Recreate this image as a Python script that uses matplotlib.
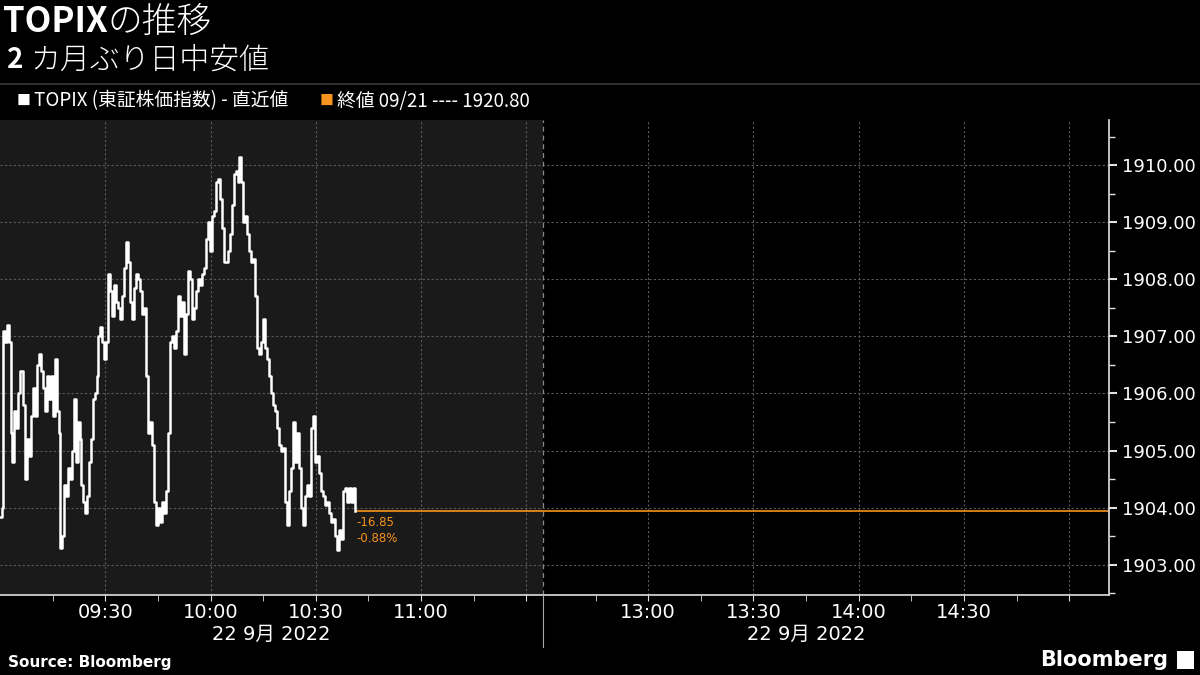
import matplotlib
matplotlib.use("Agg")
import matplotlib.pyplot as plt
from matplotlib.lines import Line2D
import numpy as np

plt.rcParams['font.family'] = ['Noto Sans CJK JP', 'DejaVu Sans']

# minutes since 09:00 (morning session) and TOPIX level
minutes = [0.0, 0.6, 0.85, 1.4, 2.0, 2.6, 3.1, 3.4, 4.0, 4.6, 5.1, 5.7, 6.6, 7.1, 7.7, 8.3,
           8.8, 9.4, 10.0, 10.5, 11.1, 11.7, 12.3, 12.8, 13.4, 14.0, 14.5, 15.1, 15.7, 16.2,
           16.8, 17.1, 17.7, 18.2, 18.8, 19.4, 19.9, 20.5, 21.1, 21.7, 22.2, 22.8, 23.1, 23.6,
           24.2, 24.8, 25.4, 25.9, 26.5, 27.1, 27.6, 27.9, 28.5, 29.1, 29.6, 30.2, 30.8, 31.3,
           31.9, 32.5, 33.0, 33.6, 34.2, 34.8, 35.3, 35.9, 36.5, 37.0, 37.6, 38.2, 38.7, 39.3,
           39.9, 40.5, 41.0, 41.6, 42.2, 42.7, 43.3, 43.9, 44.4, 45.0, 45.6, 46.2, 46.7, 47.3,
           47.9, 48.4, 49.0, 49.6, 50.1, 50.7, 51.3, 51.9, 52.4, 53.0, 53.6, 54.1, 54.7, 55.3,
           55.8, 56.4, 57.0, 57.5, 58.1, 58.7, 59.3, 59.8, 60.4, 61.0, 61.5, 62.1, 62.7, 63.2,
           63.8, 64.4, 65.0, 65.5, 66.1, 66.7, 67.2, 67.8, 68.1, 68.7, 69.2, 69.8, 70.4, 70.9,
           71.5, 72.1, 72.6, 73.2, 73.8, 74.4, 74.9, 75.5, 76.1, 76.6, 77.2, 77.8, 78.3, 78.9,
           79.5, 80.1, 80.6, 81.2, 81.8, 82.3, 82.9, 83.5, 84.0, 84.6, 85.2, 85.8, 86.3, 86.9,
           87.5, 88.0, 88.6, 89.2, 89.7, 90.3, 90.9, 91.5, 92.0, 92.6, 93.2, 93.7, 94.3, 94.9,
           95.4, 96.0, 96.6, 97.2, 97.7, 98.3, 98.9, 99.4, 100.0, 100.6, 101.1]
topix = [1903.84, 1904.0, 1907.1, 1906.9, 1907.2, 1906.9, 1905.3, 1904.8, 1905.7, 1905.4,
         1906.0, 1906.4, 1905.8, 1904.5, 1905.2, 1904.9, 1905.6, 1906.1, 1905.6, 1906.5,
         1906.7, 1906.4, 1906.1, 1905.7, 1906.3, 1905.9, 1906.3, 1905.6, 1906.6, 1905.7,
         1905.3, 1903.3, 1903.5, 1904.4, 1904.2, 1904.7, 1904.5, 1905.0, 1905.9, 1904.8,
         1905.5, 1905.2, 1904.4, 1904.1, 1903.9, 1904.2, 1904.8, 1905.2, 1905.9, 1906.0,
         1906.3, 1907.0, 1907.16, 1906.9, 1906.6, 1906.9, 1908.1, 1907.8, 1907.35, 1907.9,
         1907.6, 1907.5, 1907.3, 1907.7, 1908.2, 1908.65, 1908.3, 1907.6, 1907.3, 1907.85,
         1908.1, 1908.0, 1907.8, 1907.4, 1907.5, 1906.3, 1905.3, 1905.5, 1905.1, 1904.1,
         1903.7, 1904.0, 1903.75, 1904.1, 1903.9, 1904.3, 1905.3, 1906.9, 1907.0, 1906.8,
         1907.1, 1907.7, 1907.35, 1907.6, 1906.7, 1907.4, 1908.15, 1908.0, 1907.3, 1907.5,
         1907.8, 1908.0, 1907.9, 1908.1, 1908.2, 1908.7, 1909.0, 1908.5, 1909.1, 1909.2,
         1909.7, 1909.75, 1909.4, 1908.9, 1908.3, 1908.3, 1908.5, 1908.8, 1909.3, 1909.85,
         1909.9, 1909.7, 1910.14, 1909.7, 1909.0, 1909.1, 1908.8, 1908.5, 1908.3, 1908.35,
         1907.7, 1906.8, 1906.7, 1906.9, 1907.3, 1906.8, 1906.6, 1906.3, 1906.0, 1905.8,
         1905.7, 1905.4, 1905.1, 1905.0, 1905.05, 1904.1, 1903.7, 1904.3, 1904.7, 1905.5,
         1904.8, 1905.3, 1904.7, 1904.0, 1903.7, 1904.2, 1904.4, 1904.2, 1905.4, 1905.6,
         1904.8, 1904.9, 1904.6, 1904.3, 1904.2, 1904.05, 1904.1, 1903.9, 1903.75, 1903.8,
         1903.5, 1903.25, 1903.6, 1903.45, 1904.3, 1904.35, 1904.1, 1904.35, 1904.1, 1904.35,
         1903.95]

prev_close = 1920.80
change = -16.85
change_pct = -0.88

am_labels = ['09:30', '10:00', '10:30', '11:00', '']
pm_labels = ['13:00', '13:30', '14:00', '14:30', '']
date_label = '22 9月 2022'

# compressed time axis: lunch break removed
am_end = 154.7          # position of 12:30 (session break)
x_max = 316.0

orange = '#f7931e'
grid_c = '#5a5a5a'

fig = plt.figure(figsize=(12, 6.75), dpi=100, facecolor='black')
ax = fig.add_axes([0, 80 / 675, 1109 / 1200, 475 / 675])
ax.set_facecolor('black')
ax.axvspan(0, am_end, color='#1a1a1a', lw=0, zorder=0)

ax.set_xlim(0, x_max)
ax.set_ylim(1902.47, 1910.79)

am_ticks = [30, 60, 90, 120, 150]
pm_ticks = [am_end + m for m in (30, 60, 90, 120, 150)]
ax.set_xticks(am_ticks + pm_ticks)
ax.set_xticklabels(am_labels + pm_labels)
minor = [15, 45, 75, 105, 135] + [am_end + m for m in (15, 45, 75, 105, 135)]
ax.set_xticks(minor, minor=True)

ax.set_yticks(np.arange(1903, 1911, 1))
ax.set_yticks(np.arange(1902.5, 1911, 1), minor=True)
ax.yaxis.set_major_formatter(plt.FormatStrFormatter('%.2f'))
ax.yaxis.tick_right()

ax.grid(True, which='major', color=grid_c, linestyle=(0, (2, 2)), lw=0.8)
ax.axvline(am_end, color='#888888', linestyle=(0, (4, 3)), lw=0.9)

for s in ['top', 'left']:
    ax.spines[s].set_visible(False)
for s in ['bottom', 'right']:
    ax.spines[s].set_color('#e0e0e0')
    ax.spines[s].set_linewidth(1.2)

ax.tick_params(axis='x', which='both', colors='#e0e0e0', labelcolor='white',
               labelsize=14, length=4, pad=2)
ax.tick_params(axis='y', which='major', colors='#e0e0e0', labelcolor='white',
               labelsize=13, length=6, width=1.5, pad=3)
ax.tick_params(axis='y', which='minor', colors='#e0e0e0', length=4, width=1)
for lab in ax.get_xticklabels() + ax.get_yticklabels():
    lab.set_family(['DejaVu Sans'])

ax.step(minutes, topix, where='post', color='white', lw=1.8, zorder=3)
ax.hlines(topix[-1], minutes[-1], x_max, color=orange, lw=1.2, zorder=2)
ax.annotate(f'{change:.2f}\n{change_pct:.2f}%', xy=(minutes[-1], topix[-1]),
            xytext=(1, -4), textcoords='offset points', ha='left', va='top',
            color=orange, fontsize=8.5, linespacing=1.25, family=['DejaVu Sans'])

# date labels under the two sessions
for cx in (am_end / 2, am_end + 75):
    ax.text(cx, -0.084, date_label, transform=ax.get_xaxis_transform(),
            ha='center', va='center', color='white', fontsize=14,
            family=['DejaVu Sans', 'Noto Sans CJK JP'])

# session separator below axis
fig.add_artist(Line2D([543 / 1200, 543 / 1200], [28 / 675, 80 / 675], color='#aaaaaa', lw=0.8))
# header rule
fig.add_artist(Line2D([0, 1], [1 - 84 / 675, 1 - 84 / 675], color='#3a3a3a', lw=1.2))

# title
t1 = fig.text(3 / 1200, 1 - 22 / 675, 'TOPIX', color='white', fontsize=25, weight='bold',
              va='center', ha='left')
fig.canvas.draw()
bb = t1.get_window_extent()
fig.text(bb.x1 / 1200, 1 - 22 / 675, 'の推移', color='white', fontsize=25, weight='light',
         va='center', ha='left')
t2 = fig.text(7 / 1200, 1 - 60 / 675, '2', color='white', fontsize=20, weight='bold',
              va='center', ha='left')
fig.canvas.draw()
bb = t2.get_window_extent()
fig.text(bb.x1 / 1200 + 7 / 1200, 1 - 60 / 675, 'カ月ぶり日中安値', color='white', fontsize=21.5,
         weight='light', va='center', ha='left')

# legend row
ly = 1 - 101 / 675
fig.text(17 / 1200, ly, '■', color='white', fontsize=10, va='center', ha='left')
fig.text(34 / 1200, ly, 'TOPIX (東証株価指数) - 直近値', color='white', fontsize=13.5,
         va='center', ha='left')
fig.text(320 / 1200, ly, '■', color=orange, fontsize=10, va='center', ha='left')
fig.text(337 / 1200, ly, f'終値 09/21 ---- {prev_close:.2f}', color='white', fontsize=13.5,
         va='center', ha='left')

# footer
fig.text(8 / 1200, 1 - 662 / 675, 'Source: Bloomberg', color='white', fontsize=11,
         weight='bold', va='center', ha='left', family=['DejaVu Sans'])
fig.text(1168 / 1200, 1 - 660 / 675, 'Bloomberg', color='white', fontsize=15,
         weight='bold', va='center', ha='right', family=['DejaVu Sans'])
fig.patches.append(plt.Rectangle((1177 / 1200, 1 - 669 / 675), 17 / 1200, 18 / 675,
                                 transform=fig.transFigure, facecolor='white', lw=0))

fig.savefig('out.png', dpi=100, facecolor='black')
